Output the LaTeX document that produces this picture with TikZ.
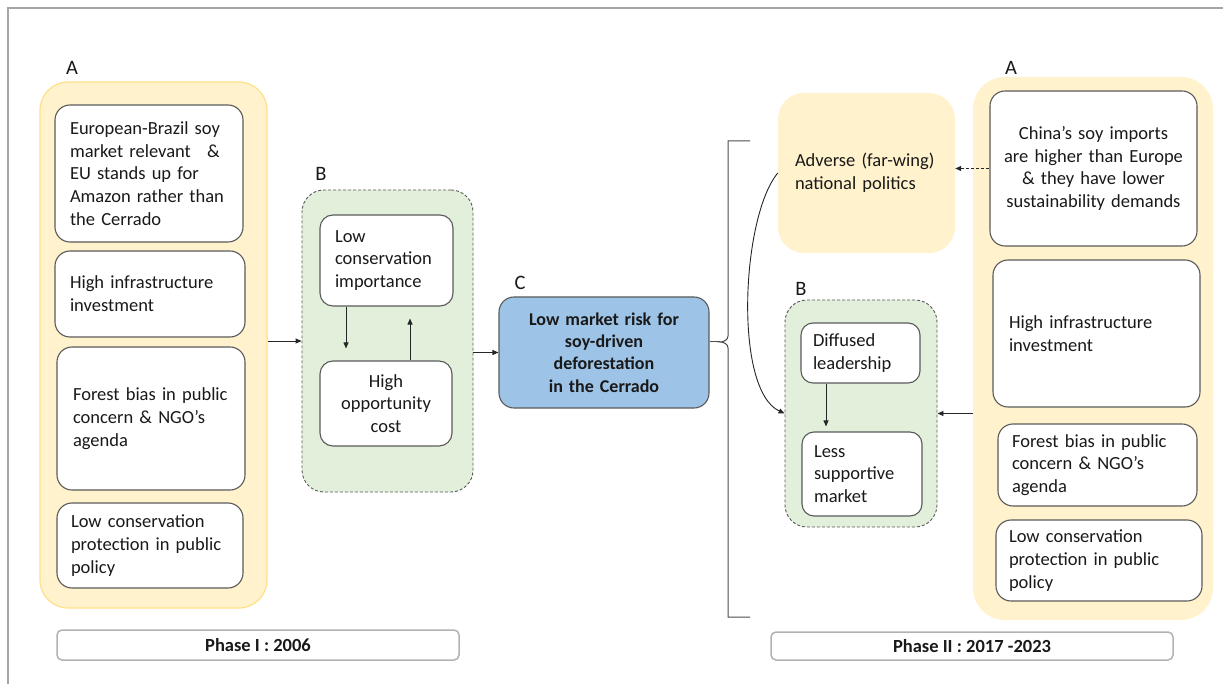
\documentclass[tikz,border=0pt]{standalone}
\usepackage{fontspec}
\setmainfont{Carlito}
\usetikzlibrary{arrows.meta}
\definecolor{soyyellow}{HTML}{FFF2CC}
\definecolor{soyedge}{HTML}{FFE08A}
\definecolor{soygreen}{HTML}{E2EFDA}
\definecolor{soyblue}{HTML}{9DC3E6}
\definecolor{cardedge}{HTML}{5A5A5A}
\begin{document}
\begin{tikzpicture}[x=1pt,y=-1pt,
    every node/.style={font=\fontsize{18.5}{22.8}\selectfont, text=black!90},
    grplabel/.style={font=\fontsize{20.5}{24}\selectfont},
    yellowgrp/.style={fill=soyyellow, rounded corners=28pt, inner sep=0pt},
    greengrp/.style={draw=cardedge, fill=soygreen, dash pattern=on 3pt off 2pt, line width=0.9pt, rounded corners=22pt, inner sep=0pt},
    card/.style={draw=cardedge, fill=white, line width=1.1pt, rounded corners=15pt, inner xsep=15pt, inner ysep=0pt, align=left},
    phase/.style={draw=black!30, line width=1.5pt, rounded corners=5pt, font=\fontsize{18.5}{22}\selectfont\bfseries},
    arr/.style={-{Triangle[length=6pt,width=5pt]}, line width=0.9pt, draw=black!85}]
		
		\useasboundingbox (0,0) rectangle (1223,684);
		\draw[black!35, line width=1.5pt] (1223,8) -- (8,8) -- (8,684);
		
		% Phase I
		\node[yellowgrp, draw=soyedge, line width=1.2pt, minimum width=227pt, minimum height=526pt] (grpA1) at (153.5,345) {};
		\node[grplabel] (labA1) at (72,68) {A};
		\node[card, minimum width=188pt, minimum height=137pt, text width=158pt] (a1) at (149,173.5) {European-Brazil soy\\market relevant\hspace{10pt} \&\\EU stands up for\\Amazon rather than\\the Cerrado};
		\node[card, minimum width=190pt, minimum height=86pt, text width=160pt] (a2) at (150,294) {High infrastructure\\investment};
		\node[card, minimum width=188pt, minimum height=143pt, text width=156pt, inner xsep=16pt] (a3) at (151,418.5) {Forest bias in public\\concern \& NGO’s\\agenda};
		\node[card, minimum width=186pt, minimum height=85pt, text width=158pt, inner xsep=14pt] (a4) at (150,545.5) {Low conservation\\protection in public\\policy};
		
		\node[greengrp, minimum width=171pt, minimum height=302pt] (grpB1) at (387.5,341) {};
		\node[grplabel] (labB1) at (321,174) {B};
		\node[card, rounded corners=13pt, minimum width=133pt, minimum height=91pt, text width=103pt] (b1) at (386.5,260.5) {Low\\conservation\\importance};
		\node[card, rounded corners=13pt, align=center, minimum width=132pt, minimum height=85pt, text width=102pt] (b2) at (386,403.5) {High\\opportunity\\cost};
		\draw[arr, shorten >=12pt] ([xshift=-40.5pt]b1.south) -- ([xshift=-40pt]b2.north);
		\draw[arr, shorten >=12pt] ([xshift=24pt]b2.north) -- ([xshift=23.5pt]b1.south);
		
		\node[grplabel] (labC) at (520,283) {C};
		\node[card, fill=soyblue, align=center, font=\fontsize{18}{22.3}\selectfont\bfseries, minimum width=210pt, minimum height=111pt, text width=180pt] (c) at (604,352.5) {Low market risk for\\soy-driven\\deforestation\\in the Cerrado};
		
		\draw[arr] (grpA1.east |- grpB1.west) -- (grpB1.west);
		\draw[arr] (grpB1.east |- c.west) -- (c.west);
		
		% brace towards phase II
		\coordinate (tip) at (720,342);
		\draw[line width=1pt, draw=black!70] (750,141) -| (728,336) to[out=270,in=0] (tip) to[out=0,in=90] (728,348) |- (750,617);
		\draw[line width=1pt, draw=black!70] (c.east |- tip) -- (tip);
		
		% Phase II
		\node[yellowgrp, rounded corners=26pt, minimum width=177pt, minimum height=160pt, text width=143pt, align=left, inner xsep=17pt] (adv) at (866.5,173) {Adverse (far-wing)\\national politics};
		\node[yellowgrp, rounded corners=32pt, minimum width=240pt, minimum height=543pt] (grpA2) at (1093,348.5) {};
		\node[grplabel] (labA2) at (1011,68) {A};
		\node[card, align=center, minimum width=207pt, minimum height=155pt, text width=180pt, inner xsep=13.5pt] (r1) at (1093.5,168.5) {China’s soy imports\\are higher than Europe\\\& they have lower\\sustainability demands};
		\node[card, minimum width=207pt, minimum height=147pt, text width=175pt, inner xsep=16pt] (r2) at (1096.5,333.5) {High infrastructure\\investment};
		\node[card, minimum width=199pt, minimum height=82pt, text width=171pt, inner xsep=14pt] (r3) at (1097.5,465) {Forest bias in public\\concern \& NGO’s\\agenda};
		\node[card, minimum width=206pt, minimum height=81pt, text width=180pt, inner xsep=13pt] (r4) at (1099,560.5) {Low conservation\\protection in public\\policy};
		
		\node[greengrp, minimum width=152pt, minimum height=227pt] (grpB2) at (861,413.5) {};
		\node[grplabel] (labB2) at (801,289) {B};
		\node[card, rounded corners=12pt, minimum width=119pt, minimum height=60pt, text width=95pt, inner xsep=12pt] (d1) at (860.5,353) {Diffused\\leadership};
		\node[card, rounded corners=12pt, minimum width=120pt, minimum height=84pt, text width=96pt, inner xsep=12pt] (d2) at (862,474) {Less\\supportive\\market};
		\draw[arr, shorten >=5pt] ([xshift=-34.5pt]d1.south) -- ([xshift=-36pt]d2.north);
		
		\draw[arr, dash pattern=on 3pt off 2pt] (r1.west) -- (adv.east |- r1.west);
		\draw[arr] (grpA2.west |- grpB2.east) -- (grpB2.east);
		\draw[arr] (adv.west) to[out=230, in=155, looseness=0.6] (grpB2.west);
		
		\node[phase, minimum width=402pt, minimum height=30pt] (ph1) at (258,645) {Phase I : 2006};
		\node[phase, minimum width=402pt, minimum height=28pt] (ph2) at (972,646) {Phase II : 2017 -2023};
		
	\end{tikzpicture}
\end{document}
